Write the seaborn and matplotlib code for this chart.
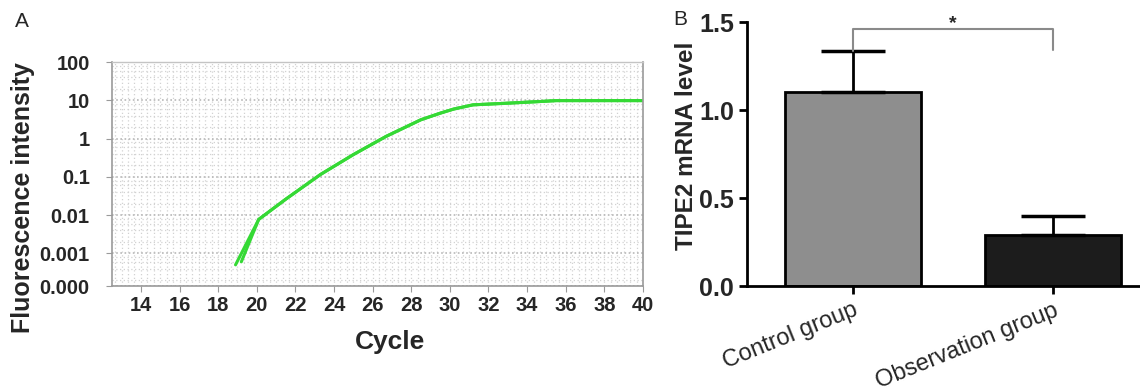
import numpy as np
import pandas as pd
import seaborn as sns
import matplotlib.pyplot as plt
from matplotlib.ticker import FixedLocator, MultipleLocator

# Panel A: amplification curves (two overlapping wells)
start_cycle = [18.9, 19.2]
start_fluor = [0.0005, 0.0006]
shared_cycle = [20.1, 21.5, 23.3, 25.0, 26.7, 28.5, 29.5, 30.2, 31.2, 33.0, 34.7, 35.5, 40.0]
shared_fluor = [0.0077, 0.026, 0.115, 0.38, 1.14, 3.1, 4.6, 5.9, 7.6, 8.4, 9.3, 9.8, 9.8]
y_ticks = [100, 10, 1, 0.1, 0.01, 0.001, 0.00014]
y_ticklabels = ["100", "10", "1", "0.1", "0.01", "0.001", "0.000"]
x_ticks = list(range(14, 41, 2))

# Panel B: TIPE2 mRNA level
groups = ["Control group", "Observation group"]
means = [1.10, 0.29]
sds = [0.235, 0.11]
bar_colors = ["#8e8e8e", "#1c1c1c"]


def curve_frame() -> pd.DataFrame:
    rows = []
    for well, (c0, f0) in enumerate(zip(start_cycle, start_fluor)):
        for c, f in zip([c0] + shared_cycle, [f0] + shared_fluor):
            rows.append({"well": well, "cycle": c, "fluor": f})
    return pd.DataFrame(rows)


sns.set_style("white")
plt.rcParams['font.family'] = ['Liberation Sans', 'DejaVu Sans']

fig = plt.figure(figsize=(11.4, 3.91), dpi=100)
ax_a = fig.add_axes([0.0982, 0.2685, 0.4658, 0.5729])
ax_b = fig.add_axes([0.655, 0.2685, 0.345, 0.675])

# ---- panel A
df = curve_frame()
sns.lineplot(data=df, x="cycle", y="fluor", hue="well", units="well",
             estimator=None, sort=False, palette=["#35d935", "#35d935"],
             linewidth=2.2, legend=False, ax=ax_a)
ax_a.set_yscale("log")
ax_a.set_ylim(y_ticks[-1], 100)
ax_a.set_xlim(12.5, 40)
ax_a.yaxis.set_major_locator(FixedLocator(y_ticks))
ax_a.set_yticklabels(y_ticklabels)
ax_a.yaxis.set_minor_locator(FixedLocator(
    [m * 10.0 ** e for e in range(-4, 2) for m in (2, 4, 6, 8)]))
ax_a.xaxis.set_major_locator(FixedLocator(x_ticks))
ax_a.xaxis.set_minor_locator(MultipleLocator(1 / 3))
ax_a.grid(which="major", axis="y", color="#b8b8b8", linestyle=(0, (1, 1.5)), lw=1.2)
ax_a.grid(which="minor", axis="both", color="#d2d2d2", linestyle=(0, (1, 2)), lw=0.9)
ax_a.grid(which="major", axis="x", color="#d2d2d2", linestyle=(0, (1, 2)), lw=0.9)
for side in ["left", "bottom", "right"]:
    ax_a.spines[side].set_color("#9a9a9a")
    ax_a.spines[side].set_linewidth(1.2)
ax_a.spines["top"].set_color("#c4c4c4")
ax_a.spines["top"].set_linewidth(1.0)
ax_a.tick_params(which="major", length=4, color="#9a9a9a", left=True, bottom=True,
                 labelsize=14.5)
ax_a.tick_params(axis="y", pad=12)
ax_a.tick_params(which="minor", length=0)
for lab in ax_a.get_xticklabels() + ax_a.get_yticklabels():
    lab.set_fontweight("bold")
ax_a.set_xlabel("Cycle", fontsize=19, fontweight="bold", va="top")
ax_a.xaxis.set_label_coords(0.524, -0.195)
ax_a.set_ylabel("Fluorescence intensity", fontsize=18, fontweight="bold", va="center")
ax_a.yaxis.set_label_coords(-0.168, 0.397)

# ---- panel B
bdf = pd.DataFrame({"group": groups, "level": means})
sns.barplot(data=bdf, x="group", y="level", hue="group", palette=bar_colors,
            width=0.68, edgecolor="black", linewidth=2, legend=False, ax=ax_b)
ax_b.errorbar([0, 1], means, yerr=[[0, 0], sds], fmt="none", ecolor="black",
              elinewidth=2, capsize=23, capthick=2.5, zorder=1)
ax_b.set_xlim(-0.53, 1.435)
ax_b.set_ylim(0, 1.5)
ax_b.set_yticks([0, 0.5, 1.0, 1.5])
ax_b.set_yticklabels(["0.0", "0.5", "1.0", "1.5"])
sns.despine(ax=ax_b)
for side in ["left", "bottom"]:
    ax_b.spines[side].set_linewidth(2)
    ax_b.spines[side].set_color("black")
ax_b.tick_params(axis="both", length=6, width=2, color="black", left=True, bottom=True)
ax_b.tick_params(axis="y", labelsize=18, pad=3)
for lab in ax_b.get_yticklabels():
    lab.set_fontweight("bold")
ax_b.set_xticks([0, 1])
ax_b.set_xticklabels(groups, rotation=22, ha="right", rotation_mode="anchor",
                     fontsize=17)
ax_b.set_xlabel("")
ax_b.set_ylabel("TIPE2 mRNA level", fontsize=17.5, fontweight="bold", va="center")
ax_b.yaxis.set_label_coords(-0.153, 0.53)

# significance bracket
top = means[0] + sds[0]
ax_b.plot([0, 0, 1, 1], [top, 1.46, 1.46, 1.34], color="#8a8a8a", lw=1.5,
          clip_on=False)
ax_b.text(0.5, 1.49, "*", ha="center", va="center", fontsize=14, fontweight="bold")

fig.text(0.013, 0.944, "A", fontsize=15, va="center")
fig.text(0.591, 0.949, "B", fontsize=15, va="center")

fig.savefig("out.png", dpi=100)
